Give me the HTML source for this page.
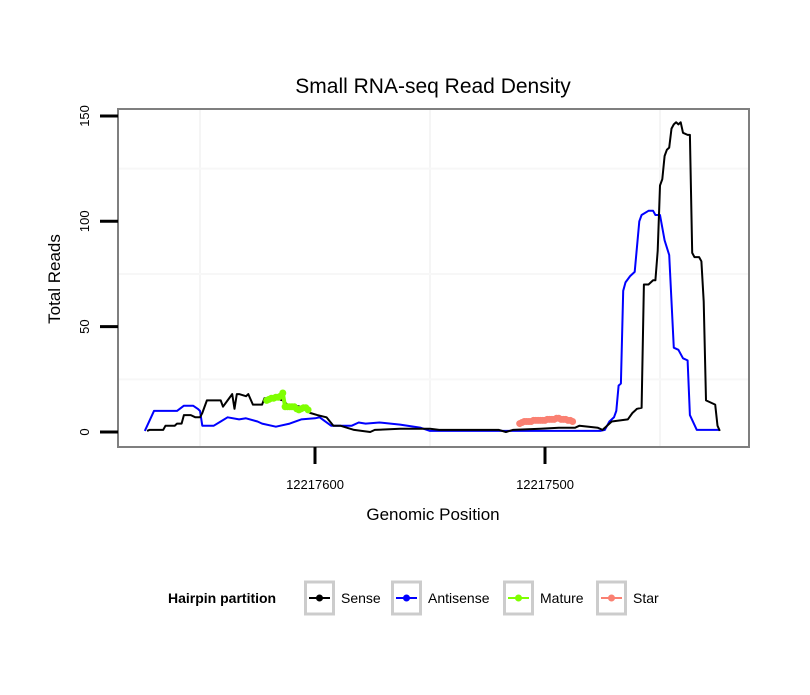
<!DOCTYPE html>
<html><head><meta charset="utf-8"><style>
body{margin:0;background:#fff;}
svg text{font-family:"Liberation Sans",sans-serif;}
</style></head><body>
<svg id="chart" width="810" height="690" xmlns="http://www.w3.org/2000/svg">
<text x="433" y="93" font-size="21" text-anchor="middle">Small RNA-seq Read Density</text>
<g id="grid"></g>
<rect x="118" y="109" width="631" height="338" fill="none" stroke="#7f7f7f" stroke-width="2"/>
<g id="series"></g>
<g id="axes"></g>
<text x="433" y="520" font-size="17" text-anchor="middle">Genomic Position</text>
<text transform="translate(60,279) rotate(-90)" font-size="17" text-anchor="middle">Total Reads</text>
<g id="legend">
<text x="168" y="603" font-size="14" font-weight="bold">Hairpin partition</text>
</g>
</svg>
<script>
const senseX=[12217673,12217672,12217666,12217665,12217661,12217660,12217658,12217657,12217654,12217652,12217650,12217649,12217647,12217646,12217641,12217640,12217638,12217636,12217635,12217634,12217633,12217630,12217629,12217627,12217626,12217623,12217622,12217617,12217614,12217612,12217606,12217602,12217599,12217595,12217592,12217589,12217583,12217576,12217574,12217563,12217550,12217546,12217520,12217517,12217514,12217502,12217494,12217487,12217485,12217477,12217475,12217473,12217471,12217464,12217462,12217460,12217458,12217457,12217455,12217453,12217452,12217451,12217450,12217449,12217448,12217447,12217446,12217445,12217444,12217443,12217442,12217441,12217440,12217438,12217437,12217436,12217435,12217433,12217432,12217431,12217430,12217428,12217426,12217425,12217424];
const senseY=[0.5,1,1,3,3,4,4,8,8,7,7,9,15,15,15,12,15,18,11,18,18,17,18,13,13,13,16,16,15,13,12,9,8,7,3,3,1,0,1,1.5,1.5,1,1,0,1,1.5,2,2,3,2,1,3,5,6,9,11,11.5,70,70,72,72,86,117,120,131,134,135,144,146,147,146,147,142,141,141,85,83,83,81,62,15,14,13,3,0.5];
const antiX=[12217674,12217670,12217660,12217657,12217653,12217651,12217650,12217649,12217644,12217641,12217638,12217633,12217630,12217625,12217623,12217617,12217611,12217606,12217600,12217598,12217593,12217584,12217581,12217578,12217572,12217563,12217554,12217550,12217476,12217474,12217472,12217470,12217469,12217468,12217467,12217466,12217465,12217463,12217461,12217459,12217458,12217455,12217453,12217452,12217450,12217448,12217446,12217444,12217442,12217440,12217438,12217437,12217434,12217424];
const antiY=[0.5,10,10,12.5,12.5,11,10,3,3,5,7,6,6.5,5,4,2.5,4,6,6.5,7,3,3,4.5,4,4.5,3.5,2,0.5,0.5,1,5,7,10,22,23,67,71,74,76,100,103,105,105,103,103,91,84,40,39,35,34,8,1,1];
const matureX=[12217621,12217620,12217619,12217618,12217617,12217616,12217615,12217614,12217613,12217612,12217611,12217610,12217609,12217608,12217607,12217606,12217605,12217604,12217603];
const matureY=[15,15.5,16,16,16.5,16.5,17,18.5,12,12,12,12,12,11,10.5,11,11.5,11.5,10.5];
const starX=[12217511,12217510,12217509,12217508,12217507,12217506,12217505,12217504,12217503,12217502,12217501,12217500,12217499,12217498,12217497,12217496,12217495,12217494,12217493,12217492,12217491,12217490,12217489,12217488];
const starY=[4,4.5,5,5,5,5,5.5,5.5,5.5,5.5,5.5,5.5,6,6,6,6,6.5,6.5,6,6,6,5.5,5.5,5];
const xTicks=[12217600,12217500];
const yTicks=[0,50,100,150];
const legendLabels=["Sense","Antisense","Mature","Star"];
const legendColors=["#000000","#0000ff","#7fff00","#fa8072"];

const NS="http://www.w3.org/2000/svg";
function sx(p){return 315+(12217600-p)*2.3;}
function sy(v){return 432-v*2.107;}
function mk(tag,attrs,parent){const e=document.createElementNS(NS,tag);for(const k in attrs)e.setAttribute(k,attrs[k]);parent.appendChild(e);return e;}
const grid=document.getElementById('grid'),series=document.getElementById('series'),axes=document.getElementById('axes'),legend=document.getElementById('legend');
[12217650,12217550,12217450].forEach(p=>{const l=mk('line',{x1:sx(p),x2:sx(p),y1:110,y2:446,stroke:'#f5f5f5','stroke-width':2},grid);

});
[25,75,125].forEach(v=>{const l=mk('line',{x1:119,x2:748,y1:sy(v),y2:sy(v),stroke:'#f7f7f7','stroke-width':2},grid);

});
function path(xs,ys,color,w,name){
 const d=xs.map((x,i)=>(i?'L':'M')+sx(x).toFixed(1)+','+sy(ys[i]).toFixed(1)).join('');
 const p=mk('path',{d:d,fill:'none',stroke:color,'stroke-width':w,'stroke-linejoin':'round'},series);
 
 
 return p;}
path(antiX,antiY,'#0000ff',2,'antisense-line');
path(senseX,senseY,'#000000',2,'sense-line');
path(matureX,matureY,'#7fff00',4,'mature-line');
matureX.forEach((x,i)=>{const c=mk('circle',{cx:sx(x),cy:sy(matureY[i]),r:3.5,fill:'#7fff00'},series);

});
path(starX,starY,'#fa8072',4,'star-line');
starX.forEach((x,i)=>{const c=mk('circle',{cx:sx(x),cy:sy(starY[i]),r:3.5,fill:'#fa8072'},series);

});
xTicks.forEach(p=>{const l=mk('line',{x1:sx(p),x2:sx(p),y1:447,y2:464,stroke:'#000','stroke-width':3},axes);


const t=mk('text',{x:sx(p),y:489,'font-size':13,'text-anchor':'middle'},axes);t.textContent=p;

});
yTicks.forEach(v=>{const l=mk('line',{x1:100,x2:118,y1:sy(v),y2:sy(v),stroke:'#000','stroke-width':3},axes);


const t=mk('text',{transform:'translate(89,'+sy(v)+') rotate(-90)','font-size':13,'text-anchor':'middle'},axes);t.textContent=v;

});
const boxX=[304,391,503,596];
legendLabels.forEach((lab,i)=>{const bx=boxX[i];
 const r=mk('rect',{x:bx+1.5,y:582,width:28,height:32,fill:'#fff',stroke:'#cccccc','stroke-width':3},legend);
 
 
 mk('line',{x1:bx+5,x2:bx+26,y1:598,y2:598,stroke:legendColors[i],'stroke-width':2},legend);
 mk('circle',{cx:bx+15.5,cy:598,r:3.5,fill:legendColors[i]},legend);
 const t=mk('text',{x:bx+37,y:603,'font-size':14},legend);t.textContent=lab;
 
 });
</script>
</body></html>
